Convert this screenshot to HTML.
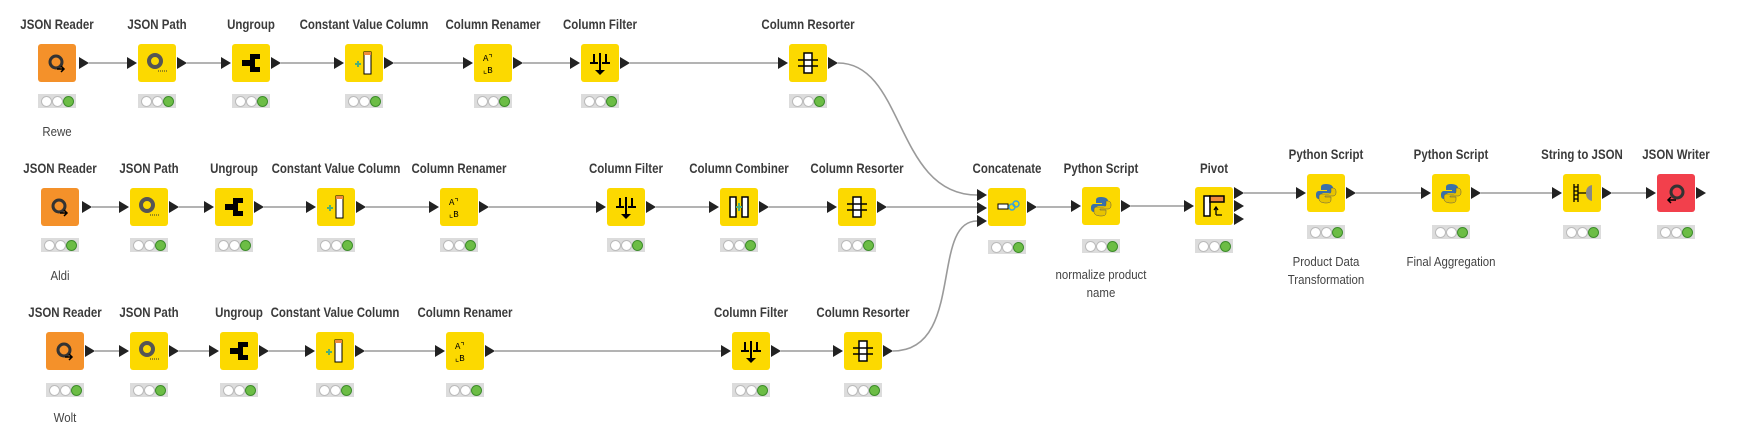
<!DOCTYPE html>
<html><head><meta charset="utf-8"><style>
body{margin:0;width:1741px;height:436px;background:#fff;position:relative;overflow:hidden;font-family:"Liberation Sans",sans-serif}
.n{position:absolute;width:38px;height:38px;border-radius:3px;background:#fcd900}
.n svg{position:absolute;left:0;top:0}
.o{background:#f4912a}.r{background:#f2404c}
.s{position:absolute;width:38px;height:14px;background:#dcdcdc;}
.s i{position:absolute;top:2px;width:9px;height:9px;border-radius:50%;background:#fff;border:0.5px solid #bbb}
.s i:nth-child(1){left:3px}.s i:nth-child(2){left:14px}.s i:nth-child(3){left:25px;background:#6cbd45;border-color:#3d8c2b}
.t{position:absolute;width:200px;text-align:center;font-weight:bold;font-size:14px;color:#3b3b3b;transform:scaleX(0.82);white-space:nowrap;line-height:16px}
.l{position:absolute;width:200px;text-align:center;font-size:13px;color:#444;transform:scaleX(0.88);line-height:18px}
</style></head><body>
<svg width="1741" height="436" style="position:absolute;left:0;top:0" fill="#222">
<g stroke="#9a9a9a" stroke-width="1.6" fill="none">
<path d="M89 63H127M187 63H221M281 63H334M394 63H463M523 63H570M630 63H778"/>
<path d="M838 63C905 63 895 195 977 195"/>
<path d="M92 207H119M179 207H204M264 207H306M366 207H429M489 207H596M656 207H709M769 207H827M887 207H977"/>
<path d="M1037 207H1071M1131 206H1184M1244 193H1296M1356 193H1421M1481 193H1552M1612 193H1646"/>
<path d="M95 351H119M179 351H209M269 351H305M365 351H435M495 351H721M781 351H833"/>
<path d="M893 351C965 351 930 221 977 221"/>
</g>
<g id="arr">
<!-- row1 -->
<path d="M79 57l10 6-10 6zM127 57l10 6-10 6zM177 57l10 6-10 6zM221 57l10 6-10 6zM271 57l10 6-10 6zM334 57l10 6-10 6zM384 57l10 6-10 6zM463 57l10 6-10 6zM513 57l10 6-10 6zM570 57l10 6-10 6zM620 57l10 6-10 6zM778 57l10 6-10 6zM828 57l10 6-10 6z"/>
<!-- row2 -->
<path d="M82 201l10 6-10 6zM119 201l10 6-10 6zM169 201l10 6-10 6zM204 201l10 6-10 6zM254 201l10 6-10 6zM306 201l10 6-10 6zM356 201l10 6-10 6zM429 201l10 6-10 6zM479 201l10 6-10 6zM596 201l10 6-10 6zM646 201l10 6-10 6zM709 201l10 6-10 6zM759 201l10 6-10 6zM827 201l10 6-10 6zM877 201l10 6-10 6z"/>
<path d="M977 189l10 6-10 6zM977 202l10 6-10 6zM977 215l10 6-10 6zM1027 201l10 6-10 6zM1071 200l10 6-10 6zM1121 200l10 6-10 6zM1184 200l10 6-10 6zM1234 187l10 6-10 6zM1234 200l10 6-10 6zM1234 213l10 6-10 6zM1296 187l10 6-10 6zM1346 187l10 6-10 6zM1421 187l10 6-10 6zM1471 187l10 6-10 6zM1552 187l10 6-10 6zM1602 187l10 6-10 6zM1646 187l10 6-10 6zM1696 187l10 6-10 6z"/>
<!-- row3 -->
<path d="M85 345l10 6-10 6zM119 345l10 6-10 6zM169 345l10 6-10 6zM209 345l10 6-10 6zM259 345l10 6-10 6zM305 345l10 6-10 6zM355 345l10 6-10 6zM435 345l10 6-10 6zM485 345l10 6-10 6zM721 345l10 6-10 6zM771 345l10 6-10 6zM833 345l10 6-10 6zM883 345l10 6-10 6z"/>
</g>
</svg>

<!-- Row 1 -->
<div class="t" style="left:-43px;top:16px">JSON Reader</div><div class="n o" style="left:38px;top:44px"><svg width="38" height="38"><circle cx="18" cy="18" r="6" fill="none" stroke="#333" stroke-width="3"/><path d="M19 25h7M23 22l3 3-3 3" stroke="#000" stroke-width="1.5" fill="none"/></svg></div><div class="s" style="left:38px;top:94px"><i></i><i></i><i></i></div><div class="l" style="left:-43px;top:123px">Rewe</div>
<div class="t" style="left:57px;top:16px">JSON Path</div><div class="n" style="left:138px;top:44px"><svg width="38" height="38"><circle cx="17" cy="17" r="6" fill="none" stroke="#555" stroke-width="4"/><path d="M20 27h10" stroke="#333" stroke-dasharray="1 1"/></svg></div><div class="s" style="left:138px;top:94px"><i></i><i></i><i></i></div>
<div class="t" style="left:151px;top:16px">Ungroup</div><div class="n" style="left:232px;top:44px"><svg width="38" height="38"><path d="M10 16h8v-6h10v5h-5v8h5v5H18v-6h-8z" fill="#000"/></svg></div><div class="s" style="left:232px;top:94px"><i></i><i></i><i></i></div>
<div class="t" style="left:264px;top:16px">Constant Value Column</div><div class="n" style="left:345px;top:44px"><svg width="38" height="38"><rect x="19" y="8" width="7" height="22" fill="#fff" stroke="#000"/><rect x="19" y="8" width="7" height="3" fill="#f08a3c"/><path d="M10 20h6M13 17v6" stroke="#4caf7a" stroke-width="2"/></svg></div><div class="s" style="left:345px;top:94px"><i></i><i></i><i></i></div>
<div class="t" style="left:393px;top:16px">Column Renamer</div><div class="n" style="left:474px;top:44px"><svg width="38" height="38"><text x="9" y="17" font-size="9" font-family="Liberation Mono" fill="#000">A⌝</text><text x="9" y="29" font-size="9" font-family="Liberation Mono" fill="#000">⌞B</text></svg></div><div class="s" style="left:474px;top:94px"><i></i><i></i><i></i></div>
<div class="t" style="left:500px;top:16px">Column Filter</div><div class="n" style="left:581px;top:44px"><svg width="38" height="38"><path d="M19 9v18M13 10v8M25 10v8M9 19h8M21 19h8" stroke="#000" stroke-width="2"/><path d="M14 26l5 5 5-5z"/></svg></div><div class="s" style="left:581px;top:94px"><i></i><i></i><i></i></div>
<div class="t" style="left:708px;top:16px">Column Resorter</div><div class="n" style="left:789px;top:44px"><svg width="38" height="38"><rect x="15" y="9" width="8" height="20" fill="#fff" stroke="#000" stroke-width="1.5"/><path d="M9 16h20M9 22h20" stroke="#000" stroke-width="1.5"/></svg></div><div class="s" style="left:789px;top:94px"><i></i><i></i><i></i></div>

<!-- Row 2 -->
<div class="t" style="left:-40px;top:160px">JSON Reader</div><div class="n o" style="left:41px;top:188px"><svg width="38" height="38"><circle cx="18" cy="18" r="6" fill="none" stroke="#333" stroke-width="3"/><path d="M19 25h7M23 22l3 3-3 3" stroke="#000" stroke-width="1.5" fill="none"/></svg></div><div class="s" style="left:41px;top:238px"><i></i><i></i><i></i></div><div class="l" style="left:-40px;top:267px">Aldi</div>
<div class="t" style="left:49px;top:160px">JSON Path</div><div class="n" style="left:130px;top:188px"><svg width="38" height="38"><circle cx="17" cy="17" r="6" fill="none" stroke="#555" stroke-width="4"/><path d="M20 27h10" stroke="#333" stroke-dasharray="1 1"/></svg></div><div class="s" style="left:130px;top:238px"><i></i><i></i><i></i></div>
<div class="t" style="left:134px;top:160px">Ungroup</div><div class="n" style="left:215px;top:188px"><svg width="38" height="38"><path d="M10 16h8v-6h10v5h-5v8h5v5H18v-6h-8z" fill="#000"/></svg></div><div class="s" style="left:215px;top:238px"><i></i><i></i><i></i></div>
<div class="t" style="left:236px;top:160px">Constant Value Column</div><div class="n" style="left:317px;top:188px"><svg width="38" height="38"><rect x="19" y="8" width="7" height="22" fill="#fff" stroke="#000"/><rect x="19" y="8" width="7" height="3" fill="#f08a3c"/><path d="M10 20h6M13 17v6" stroke="#4caf7a" stroke-width="2"/></svg></div><div class="s" style="left:317px;top:238px"><i></i><i></i><i></i></div>
<div class="t" style="left:359px;top:160px">Column Renamer</div><div class="n" style="left:440px;top:188px"><svg width="38" height="38"><text x="9" y="17" font-size="9" font-family="Liberation Mono" fill="#000">A⌝</text><text x="9" y="29" font-size="9" font-family="Liberation Mono" fill="#000">⌞B</text></svg></div><div class="s" style="left:440px;top:238px"><i></i><i></i><i></i></div>
<div class="t" style="left:526px;top:160px">Column Filter</div><div class="n" style="left:607px;top:188px"><svg width="38" height="38"><path d="M19 9v18M13 10v8M25 10v8M9 19h8M21 19h8" stroke="#000" stroke-width="2"/><path d="M14 26l5 5 5-5z"/></svg></div><div class="s" style="left:607px;top:238px"><i></i><i></i><i></i></div>
<div class="t" style="left:639px;top:160px">Column Combiner</div><div class="n" style="left:720px;top:188px"><svg width="38" height="38"><path d="M10 9h6v20h-6zM22 9h6v20h-6z" fill="#fff" stroke="#000" stroke-width="1.5"/><path d="M16 19h6M19 15v8" stroke="#4caf7a" stroke-width="2"/></svg></div><div class="s" style="left:720px;top:238px"><i></i><i></i><i></i></div>
<div class="t" style="left:757px;top:160px">Column Resorter</div><div class="n" style="left:838px;top:188px"><svg width="38" height="38"><rect x="15" y="9" width="8" height="20" fill="#fff" stroke="#000" stroke-width="1.5"/><path d="M9 16h20M9 22h20" stroke="#000" stroke-width="1.5"/></svg></div><div class="s" style="left:838px;top:238px"><i></i><i></i><i></i></div>
<div class="t" style="left:907px;top:160px">Concatenate</div><div class="n" style="left:988px;top:188px"><svg width="38" height="38"><rect x="10" y="16" width="10" height="5" fill="#fff" stroke="#000"/><circle cx="24" cy="19" r="3" fill="none" stroke="#3aa3d8" stroke-width="1.5"/><circle cx="28" cy="16" r="3" fill="none" stroke="#3aa3d8" stroke-width="1.5"/></svg></div><div class="s" style="left:988px;top:240px"><i></i><i></i><i></i></div>
<div class="t" style="left:1001px;top:160px">Python Script</div><div class="n" style="left:1082px;top:187px"><svg width="38" height="38"><path d="M19 10c-5 0-5 2-5 4v2h6v1h-8c-3 0-3 3-3 4s0 4 3 4h2v-3c0-2 1-3 3-3h6c2 0 3-1 3-3v-2c0-2-2-4-7-4z" fill="#3a70a8"/><path d="M19 29c5 0 5-2 5-4v-2h-6v-1h8c3 0 3-3 3-4s0-4-3-4h-2v3c0 2-1 3-3 3h-6c-2 0-3 1-3 3v2c0 2 2 4 7 4z" fill="#e8c400" stroke="#555" stroke-width=".5"/></svg></div><div class="s" style="left:1082px;top:239px"><i></i><i></i><i></i></div><div class="l" style="left:1001px;top:266px">normalize product<br>name</div>
<div class="t" style="left:1114px;top:160px">Pivot</div><div class="n" style="left:1195px;top:187px"><svg width="38" height="38"><rect x="9" y="9" width="6" height="20" fill="#fff" stroke="#000" stroke-width="1.5"/><rect x="15" y="9" width="14" height="6" fill="#f08a3c" stroke="#000" stroke-width="1.5"/><path d="M21 28v-7M19 23l2-3 2 3M21 28h6" stroke="#000" stroke-width="1.3" fill="none"/></svg></div><div class="s" style="left:1195px;top:239px"><i></i><i></i><i></i></div>
<div class="t" style="left:1226px;top:146px">Python Script</div><div class="n" style="left:1307px;top:174px"><svg width="38" height="38"><path d="M19 10c-5 0-5 2-5 4v2h6v1h-8c-3 0-3 3-3 4s0 4 3 4h2v-3c0-2 1-3 3-3h6c2 0 3-1 3-3v-2c0-2-2-4-7-4z" fill="#3a70a8"/><path d="M19 29c5 0 5-2 5-4v-2h-6v-1h8c3 0 3-3 3-4s0-4-3-4h-2v3c0 2-1 3-3 3h-6c-2 0-3 1-3 3v2c0 2 2 4 7 4z" fill="#e8c400" stroke="#555" stroke-width=".5"/></svg></div><div class="s" style="left:1307px;top:225px"><i></i><i></i><i></i></div><div class="l" style="left:1226px;top:253px">Product Data<br>Transformation</div>
<div class="t" style="left:1351px;top:146px">Python Script</div><div class="n" style="left:1432px;top:174px"><svg width="38" height="38"><path d="M19 10c-5 0-5 2-5 4v2h6v1h-8c-3 0-3 3-3 4s0 4 3 4h2v-3c0-2 1-3 3-3h6c2 0 3-1 3-3v-2c0-2-2-4-7-4z" fill="#3a70a8"/><path d="M19 29c5 0 5-2 5-4v-2h-6v-1h8c3 0 3-3 3-4s0-4-3-4h-2v3c0 2-1 3-3 3h-6c-2 0-3 1-3 3v2c0 2 2 4 7 4z" fill="#e8c400" stroke="#555" stroke-width=".5"/></svg></div><div class="s" style="left:1432px;top:225px"><i></i><i></i><i></i></div><div class="l" style="left:1351px;top:253px">Final Aggregation</div>
<div class="t" style="left:1482px;top:146px">String to JSON</div><div class="n" style="left:1563px;top:174px"><svg width="38" height="38"><path d="M11 10v18M15 10v18M11 13h4M11 17h4M11 21h4M11 25h4M15 19h8" stroke="#000" stroke-width="1.3"/><path d="M29 11c-5 1-6 5-6 8s1 7 6 8z" fill="#888"/></svg></div><div class="s" style="left:1563px;top:225px"><i></i><i></i><i></i></div>
<div class="t" style="left:1576px;top:146px">JSON Writer</div><div class="n r" style="left:1657px;top:174px"><svg width="38" height="38"><circle cx="20" cy="18" r="6" fill="none" stroke="#333" stroke-width="3"/><path d="M19 26h-8M14 23l-3 3 3 3" stroke="#000" stroke-width="1.5" fill="none"/></svg></div><div class="s" style="left:1657px;top:225px"><i></i><i></i><i></i></div>

<!-- Row 3 -->
<div class="t" style="left:-35px;top:304px">JSON Reader</div><div class="n o" style="left:46px;top:332px"><svg width="38" height="38"><circle cx="18" cy="18" r="6" fill="none" stroke="#333" stroke-width="3"/><path d="M19 25h7M23 22l3 3-3 3" stroke="#000" stroke-width="1.5" fill="none"/></svg></div><div class="s" style="left:46px;top:383px"><i></i><i></i><i></i></div><div class="l" style="left:-35px;top:409px">Wolt</div>
<div class="t" style="left:49px;top:304px">JSON Path</div><div class="n" style="left:130px;top:332px"><svg width="38" height="38"><circle cx="17" cy="17" r="6" fill="none" stroke="#555" stroke-width="4"/><path d="M20 27h10" stroke="#333" stroke-dasharray="1 1"/></svg></div><div class="s" style="left:130px;top:383px"><i></i><i></i><i></i></div>
<div class="t" style="left:139px;top:304px">Ungroup</div><div class="n" style="left:220px;top:332px"><svg width="38" height="38"><path d="M10 16h8v-6h10v5h-5v8h5v5H18v-6h-8z" fill="#000"/></svg></div><div class="s" style="left:220px;top:383px"><i></i><i></i><i></i></div>
<div class="t" style="left:235px;top:304px">Constant Value Column</div><div class="n" style="left:316px;top:332px"><svg width="38" height="38"><rect x="19" y="8" width="7" height="22" fill="#fff" stroke="#000"/><rect x="19" y="8" width="7" height="3" fill="#f08a3c"/><path d="M10 20h6M13 17v6" stroke="#4caf7a" stroke-width="2"/></svg></div><div class="s" style="left:316px;top:383px"><i></i><i></i><i></i></div>
<div class="t" style="left:365px;top:304px">Column Renamer</div><div class="n" style="left:446px;top:332px"><svg width="38" height="38"><text x="9" y="17" font-size="9" font-family="Liberation Mono" fill="#000">A⌝</text><text x="9" y="29" font-size="9" font-family="Liberation Mono" fill="#000">⌞B</text></svg></div><div class="s" style="left:446px;top:383px"><i></i><i></i><i></i></div>
<div class="t" style="left:651px;top:304px">Column Filter</div><div class="n" style="left:732px;top:332px"><svg width="38" height="38"><path d="M19 9v18M13 10v8M25 10v8M9 19h8M21 19h8" stroke="#000" stroke-width="2"/><path d="M14 26l5 5 5-5z"/></svg></div><div class="s" style="left:732px;top:383px"><i></i><i></i><i></i></div>
<div class="t" style="left:763px;top:304px">Column Resorter</div><div class="n" style="left:844px;top:332px"><svg width="38" height="38"><rect x="15" y="9" width="8" height="20" fill="#fff" stroke="#000" stroke-width="1.5"/><path d="M9 16h20M9 22h20" stroke="#000" stroke-width="1.5"/></svg></div><div class="s" style="left:844px;top:383px"><i></i><i></i><i></i></div>
</body></html>
